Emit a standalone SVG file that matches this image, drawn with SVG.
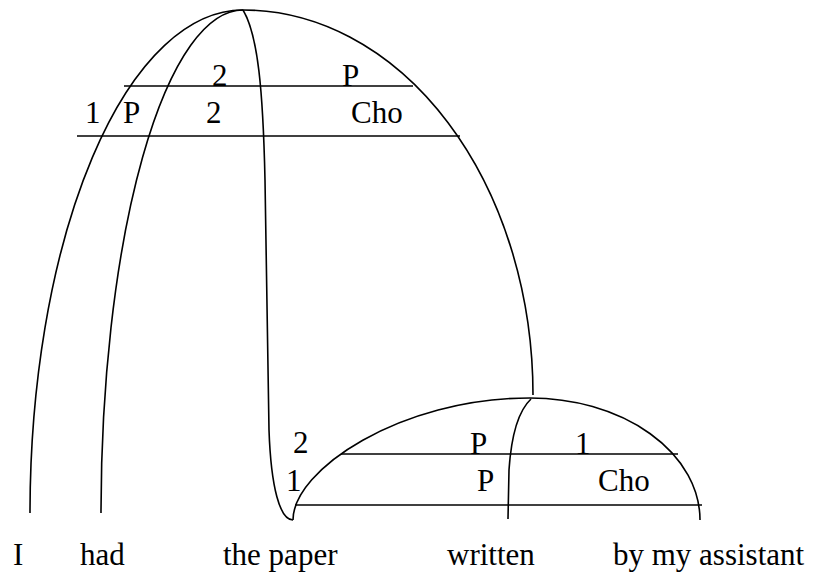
<svg xmlns="http://www.w3.org/2000/svg" width="821" height="575" viewBox="0 0 821 575">
<style>
.l{fill:none;stroke:#000;stroke-width:1.6}
.t{font-family:'Liberation Serif','DejaVu Serif',serif;font-size:31px;fill:#000}
</style>
<rect width="821" height="575" fill="#fff"/>
<g id="connectors">
<path class="l" d="M30,513 A213,503 0 0 1 243,10 A290,385 0 0 1 533,395"/>
<path class="l" d="M101,513 A142,503 0 0 1 243,10"/>
<path class="l" d="M243,10 C258,35 263,90 265,180 L269,430 C271,488 280,520 293,520"/>
<path class="l" d="M293,520 C293,470 400,398 530,398 A170,122 0 0 1 700,520"/>
<path class="l" d="M531,399 C517,412 511,440 509,470 L508,519"/>
<path class="l" d="M124,86 H413"/>
<path class="l" d="M77,136 H460"/>
<path class="l" d="M341,454 H678"/>
<path class="l" d="M295,505 H702"/>
</g>
<g id="labels" class="t" font-family="Liberation Serif, DejaVu Serif, serif">
<text x="212" y="86">2</text>
<text x="342" y="86">P</text>
<text x="85" y="123">1</text>
<text x="123" y="123">P</text>
<text x="206" y="123">2</text>
<text x="351" y="123">Cho</text>
<text x="293" y="453">2</text>
<text x="470" y="454">P</text>
<text x="575" y="454">1</text>
<text x="286" y="491">1</text>
<text x="477" y="491">P</text>
<text x="598" y="491">Cho</text>
</g>
<g id="word-I" class="t"><text x="13" y="565">I</text></g>
<g id="word-had" class="t"><text x="80" y="565">had</text></g>
<g id="word-the-paper" class="t"><text x="223" y="565">the paper</text></g>
<g id="word-written" class="t"><text x="447" y="565">written</text></g>
<g id="word-by-my-assistant" class="t"><text x="613" y="565">by my assistant</text></g>
</svg>
